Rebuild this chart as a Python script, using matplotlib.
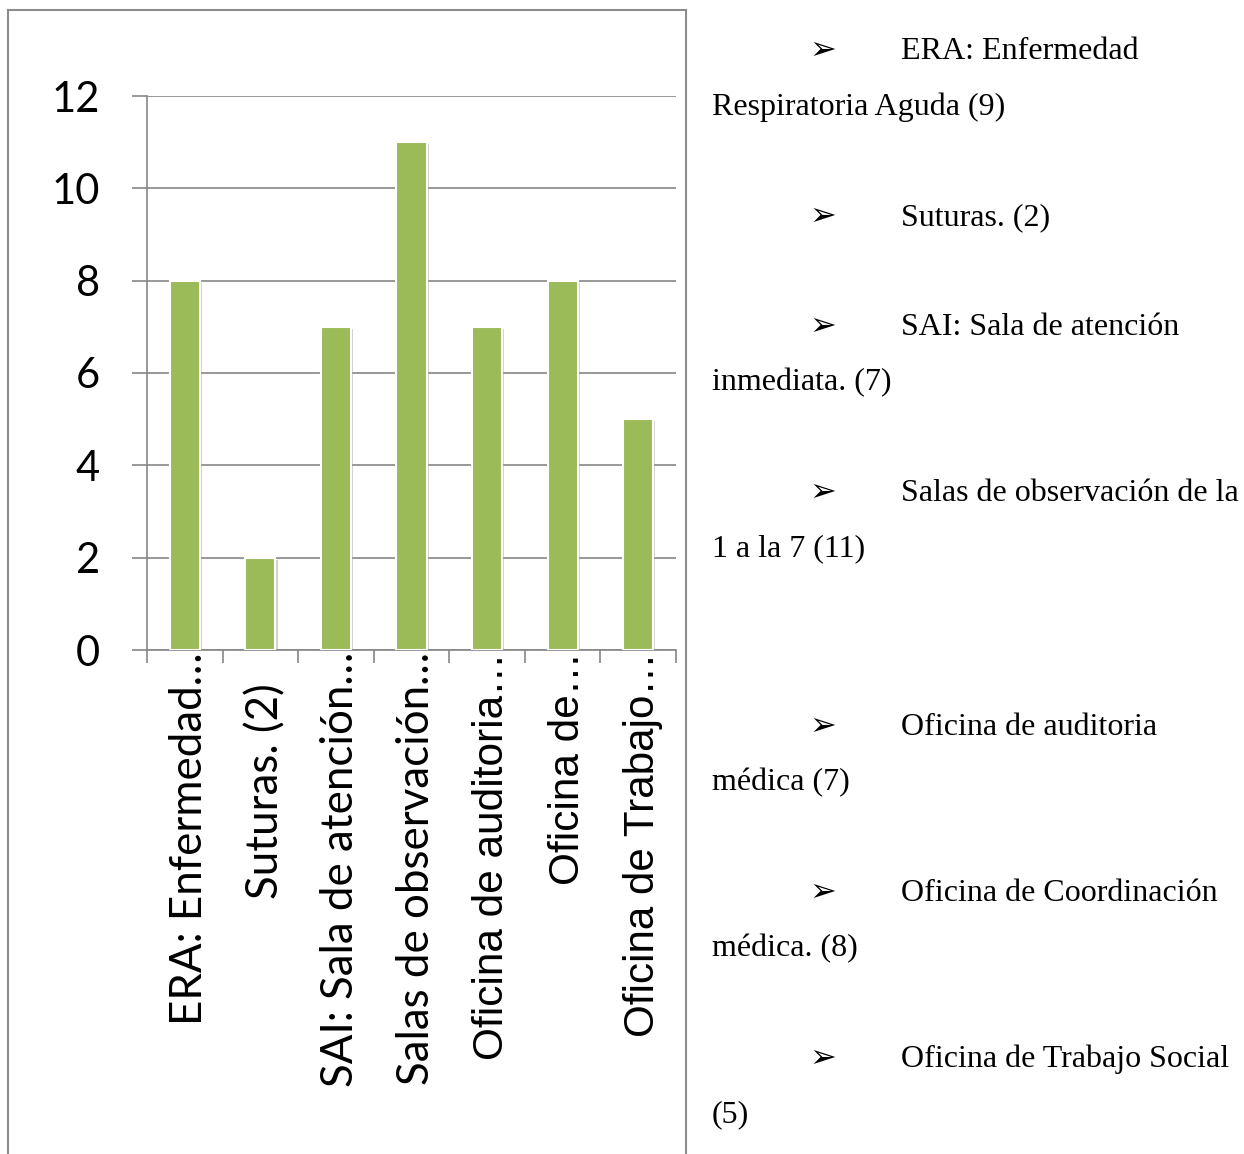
import matplotlib
matplotlib.use("Agg")
import matplotlib.pyplot as plt
import matplotlib.patheffects as pe
import matplotlib.transforms as mtransforms
from matplotlib.lines import Line2D

# ---- data -------------------------------------------------------------
categories = [
    "ERA: Enfermedad…",
    "Suturas. (2)",
    "SAI: Sala de atención…",
    "Salas de observación…",
    "Oficina de auditoria…",
    "Oficina de…",
    "Oficina de Trabajo…",
]
values = [8, 2, 7, 11, 7, 8, 5]
yticks = [0, 2, 4, 6, 8, 10, 12]

note_heads = [
    "ERA: Enfermedad",
    "Suturas. (2)",
    "SAI: Sala de atención",
    "Salas de observación de la",
    "Oficina de auditoria",
    "Oficina de Coordinación",
    "Oficina de Trabajo Social",
]
note_tails = [
    "Respiratoria Aguda (9)",
    None,
    "inmediata. (7)",
    "1 a la 7 (11)",
    "médica (7)",
    "médica. (8)",
    "(5)",
]

# ---- layout / style ---------------------------------------------------
W, H = 1244, 1154
BAR_GREEN = "#9BBB59"
GRID = "#868686"
FRAME = "#8c8c8c"
label_fonts = ["Lato", "Lato", "Lato", "Lato",
               "Liberation Sans", "Liberation Sans", "Liberation Sans"]
label_sizes = [31.6, 31.6, 31.6, 31.6, 30.5, 30.5, 30.3]
label_gap_px = [2, 33, 2, 2, 2, 2, 2]
head_baselines = [59, 225, 335, 501, 735, 901, 1067]
line_step = 55.5

fig = plt.figure(figsize=(W / 100, H / 100), dpi=100)
fig.patch.set_facecolor("white")

# chart frame (top, left and right edges)
for xs, ys in [((8, 686), (10, 10)), ((8, 8), (10, H)), ((686, 686), (10, H))]:
    fig.add_artist(Line2D([x / W for x in xs], [1 - y / H for y in ys],
                          transform=fig.transFigure, color=FRAME, lw=1.5))

ax = fig.add_axes([147 / W, 1 - 650 / H, 529 / W, 554 / H])
x = list(range(len(values)))
ax.bar(x, values, width=0.4, color=BAR_GREEN, edgecolor="white",
       linewidth=1.5, zorder=3,
       path_effects=[pe.SimplePatchShadow(offset=(1.5, -1.5),
                                          shadow_rgbFace="#9a9a9a", alpha=0.45),
                     pe.Normal()])

ax.set_xlim(-0.5, len(values) - 0.5)
ax.set_ylim(0, 12)
ax.set_yticks(yticks)
ax.set_yticklabels([str(v) for v in yticks], fontfamily="Lato", fontsize=30)
ax.yaxis.grid(True, color=GRID, lw=1.2)
ax.set_axisbelow(True)
for s in ("top", "right"):
    ax.spines[s].set_visible(False)
for s in ("left", "bottom"):
    ax.spines[s].set_color(GRID)
    ax.spines[s].set_linewidth(1.2)
ax.tick_params(axis="y", length=11, width=1.2, color=GRID, pad=23)

ax.set_xticks([i - 0.5 for i in range(len(values) + 1)])
ax.set_xticklabels([])
ax.tick_params(axis="x", length=9.5, width=1.2, color=GRID)

trans = mtransforms.blended_transform_factory(ax.transData, ax.transAxes)
for i, (lab, fam, size, gap) in enumerate(
        zip(categories, label_fonts, label_sizes, label_gap_px)):
    off = mtransforms.ScaledTranslation(5 / 100, -gap / 100, fig.dpi_scale_trans)
    ax.text(i, 0, lab, rotation=90, ha="center", va="top", fontsize=size,
            fontfamily=fam, transform=trans + off, color="black")

# notes listed beside the chart
for head, tail, yb in zip(note_heads, note_tails, head_baselines):
    fig.text(809 / W, 1 - yb / H, "➢", fontfamily=["DejaVu Sans"],
             fontsize=23, va="baseline", ha="left", color="black")
    fig.text(901 / W, 1 - yb / H, head, fontfamily="Liberation Serif",
             fontsize=23, va="baseline", ha="left", color="black")
    if tail:
        fig.text(712 / W, 1 - (yb + line_step) / H, tail,
                 fontfamily="Liberation Serif", fontsize=23,
                 va="baseline", ha="left", color="black")

fig.savefig("out.png", dpi=100)
